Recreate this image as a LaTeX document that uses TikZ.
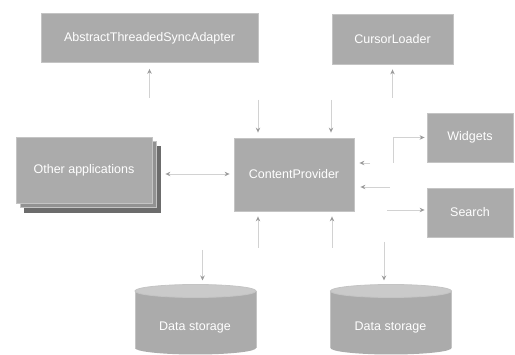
\documentclass[tikz,border=0pt]{standalone}
\usepackage{fontspec}
\setmainfont{Liberation Sans}
\usetikzlibrary{arrows.meta,shadows}
\definecolor{boxfill}{HTML}{ABABAB}
\definecolor{boxline}{HTML}{C4C4C4}
\definecolor{connc}{HTML}{D2D2D2}
\definecolor{tipc}{HTML}{9C9C9C}
\definecolor{stackmid}{HTML}{929292}
\definecolor{stackdark}{HTML}{6C6C6C}
\definecolor{cyltop}{HTML}{CACACA}
\begin{document}
\begin{tikzpicture}[x=1pt,y=-1pt,
  box/.style={fill=boxfill, draw=boxline, line width=0.8pt, text=white,
    font=\fontsize{12.5}{14}\selectfont, inner sep=0pt},
  conn/.style={draw=connc, line width=0.9pt,
    -{Stealth[length=5pt,width=4.5pt,color=tipc]}},
  dconn/.style={draw=connc, line width=0.9pt,
    {Stealth[length=5pt,width=4.5pt,color=tipc]}-{Stealth[length=5pt,width=4.5pt,color=tipc]}},
  cyltext/.style={text=white, font=\fontsize{12.5}{14}\selectfont, inner sep=0pt},
]
\useasboundingbox (0,0) rectangle (515,355);

% boxes
\node[box, minimum width=217pt, minimum height=49pt] (atsa) at (149.5,38) {AbstractThreadedSyncAdapter};
\node[box, minimum width=121pt, minimum height=50pt] (cl) at (392.5,39) {CursorLoader};
\node[box, minimum width=120pt, minimum height=73pt] (cp) at (294,174.5) {ContentProvider};
\node[box, minimum width=86pt, minimum height=49pt] (wdg) at (470,137.5) {Widgets};
\node[box, minimum width=86pt, minimum height=49pt] (srch) at (470,212.5) {Search};
\node[box, minimum width=136pt, minimum height=66pt,
  copy shadow={shadow xshift=8pt, shadow yshift=-9pt, fill=stackdark, draw=stackdark},
  copy shadow={shadow xshift=4pt, shadow yshift=-4.5pt, fill=stackmid, draw=boxline}]
  (oa) at (84,170) {Other applications};

% data storage cylinders
\foreach \cx/\nm in {195.5/ds1, 391/ds2}{
  \fill[boxfill] (\cx,348) ellipse [x radius=60.5pt, y radius=6.5pt];
  \fill[boxfill] (\cx-60.5,291) rectangle (\cx+60.5,348);
  \draw[boxline, line width=0.8pt] (\cx-60.5,291) -- (\cx-60.5,348);
  \draw[boxline, line width=0.8pt] (\cx+60.5,291) -- (\cx+60.5,348);
  \filldraw[fill=cyltop, draw=boxline, line width=0.8pt] (\cx,291) ellipse [x radius=60.5pt, y radius=6.5pt];
  \coordinate (\nm top) at (\cx,284.5);
}
\node[cyltext] (ds1) at (195,327) {Data storage};
\node[cyltext] (ds2) at (390.5,327) {Data storage};

% connectors
\coordinate (a1) at (149.5,98);
\draw[conn, shorten >=6pt] (a1) -- (atsa);
\coordinate (c1) at (392.5,98);
\draw[conn, shorten >=5pt] (c1) -- (cl);
\coordinate (t1) at (258,100);
\coordinate (t2) at (331,100);
\draw[conn, shorten >=5pt] (t1) -- (t1 |- cp.north);
\draw[conn, shorten >=5pt] (t2) -- (t2 |- cp.north);
\coordinate (b1) at (258,248);
\coordinate (b2) at (332,248);
\draw[conn, shorten >=5pt] (b1) -- (b1 |- cp.south);
\draw[conn, shorten >=5pt] (b2) -- (b2 |- cp.south);
\coordinate (d1) at (202.5,250);
\coordinate (d2) at (384,242);
\draw[conn, shorten >=4pt] (d1) -- (d1 |- ds1top);
\draw[conn, shorten >=4pt] (d2) -- (d2 |- ds2top);
\draw[dconn, shorten <=13pt, shorten >=4pt] ([yshift=-4pt]oa.east) -- ([yshift=-4pt]oa.east -| cp.west);
% right side
\coordinate (w0) at (393,163);
\draw[conn, shorten >=2pt] (w0) |- (wdg.west);
\coordinate (w1) at (370,163);
\draw[conn, shorten >=5pt] (w1) -- (w1 -| cp.east);
\coordinate (r2) at (390,187);
\draw[conn, shorten >=6pt] (r2) -- (r2 -| cp.east);
\coordinate (s0) at (387,210);
\draw[conn, shorten >=2pt] (s0) -- (s0 -| srch.west);
\end{tikzpicture}
\end{document}
